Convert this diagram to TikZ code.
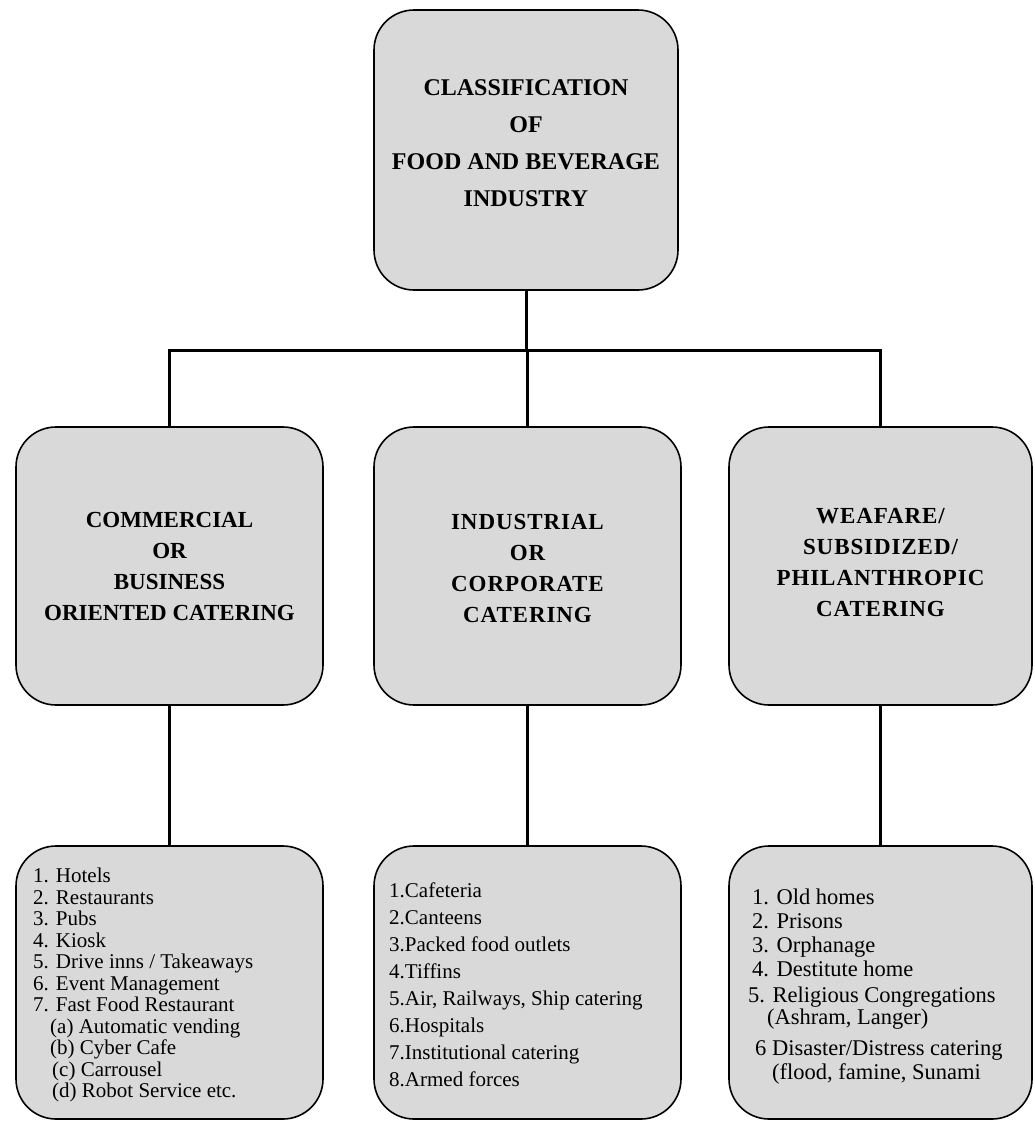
\documentclass[tikz,border=0pt]{standalone}
\usepackage{fontspec}
\setmainfont{Liberation Serif}
\definecolor{boxgray}{HTML}{D9D9D9}
\begin{document}
\begin{tikzpicture}[x=1pt,y=-1pt,
  box/.style={draw=black, line width=1.6pt, fill=boxgray, rounded corners=40pt, inner sep=0pt},
  head/.style={font=\bfseries\fontsize{23}{31}\selectfont, align=center},
  widehead/.style={head, font=\bfseries\fontsize{23}{31}\selectfont\addfontfeature{LetterSpace=4}},
  toptext/.style={font=\bfseries\fontsize{24}{37}\selectfont, align=center},
  listtext/.style={align=left, anchor=north west, inner sep=0pt},
  conn/.style={line width=3pt}]
\useasboundingbox[fill=white] (0,0) rectangle (1034,1122);

% root
\node[box, minimum width=304pt, minimum height=280pt] (top) at (526,150) {};
\node[toptext] (toplabel) at (526,143) {CLASSIFICATION\\OF\\FOOD AND BEVERAGE\\INDUSTRY};

% the three kinds of catering
\node[box, minimum width=307pt, minimum height=278pt] (m1) at (169.5,566) {};
\node[box, minimum width=307pt, minimum height=278pt] (m2) at (527.5,566) {};
\node[box, minimum width=303pt, minimum height=278pt] (m3) at (880.5,566) {};
\node[head] (m1label) at (169.5,566) {COMMERCIAL\\OR\\BUSINESS\\ORIENTED CATERING};
\node[widehead] (m2label) at (527.5,568) {INDUSTRIAL\\OR\\CORPORATE\\CATERING};
\node[widehead] (m3label) at (880.5,563) {WEAFARE/\\SUBSIDIZED/\\PHILANTHROPIC\\CATERING};

% lists of outlets
\node[box, minimum width=307pt, minimum height=273pt] (b1) at (169.5,982.5) {};
\node[box, minimum width=307pt, minimum height=273pt] (b2) at (527.5,982.5) {};
\node[box, minimum width=303pt, minimum height=273pt] (b3) at (880.5,982.5) {};

\node[listtext, font=\fontsize{21}{21.5}\selectfont] (b1list) at (33,868) {%
1. Hotels\\
2. Restaurants\\
3. Pubs\\
4. Kiosk\\
5. Drive inns / Takeaways\\
6. Event Management\\
7. Fast Food Restaurant\\
\hspace*{17pt}(a) Automatic vending\\
\hspace*{17pt}(b) Cyber Cafe\\
\hspace*{19pt}(c) Carrousel\\
\hspace*{19pt}(d) Robot Service etc.};

\node[listtext, font=\fontsize{21}{27}\selectfont] (b2list) at (389,882) {%
1.Cafeteria\\
2.Canteens\\
3.Packed food outlets\\
4.Tiffins\\
5.Air, Railways, Ship catering\\
6.Hospitals\\
7.Institutional catering\\
8.Armed forces};

\node[listtext, font=\fontsize{22.5}{24}\selectfont] (b3list) at (752,889) {%
1. Old homes\\
2. Prisons\\
3. Orphanage\\
4. Destitute home\\[2pt]
\hspace*{-4pt}5. Religious Congregations\\[-2pt]
\hspace*{15pt}(Ashram, Langer)\\[7pt]
\hspace*{3pt}6 Disaster/Distress catering\\[0pt]
\hspace*{20pt}(flood, famine, Sunami};

% connectors
\coordinate (bus) at (0,350);
\draw[conn] (top.south) -- (top.south |- bus);
\draw[conn] (m1.north) -- (m1.north |- bus) -- (m3.north |- bus) -- (m3.north);
\draw[conn] (m2.north) -- (m2.north |- bus);
\draw[conn] (m1.south) -- (b1.north);
\draw[conn] (m2.south) -- (b2.north);
\draw[conn] (m3.south) -- (b3.north);
\end{tikzpicture}
\end{document}
